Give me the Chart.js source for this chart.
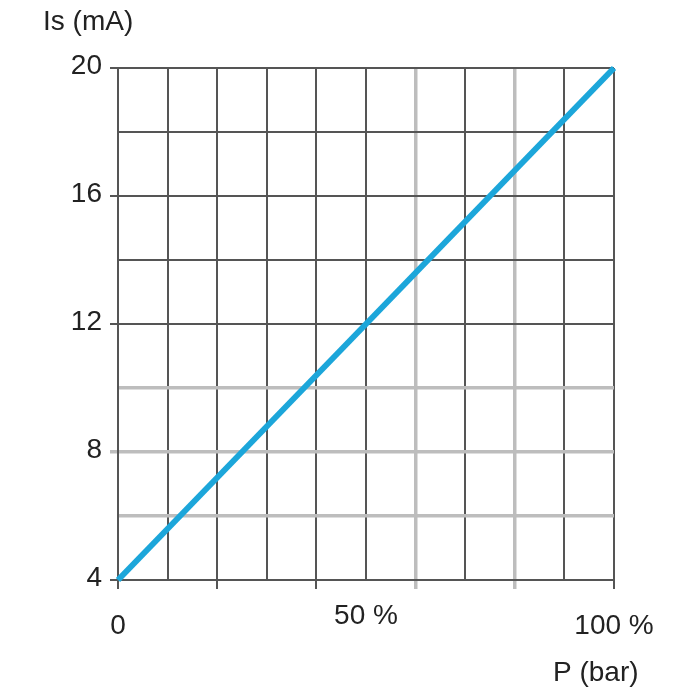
<!DOCTYPE html>
<html>
<head>
<meta charset="utf-8">
<script src="https://cdn.jsdelivr.net/npm/chart.js@4/dist/chart.umd.min.js"></script>
<style>
html,body{margin:0;padding:0;background:#fff;}
#wrap{width:700px;height:700px;}
</style>
</head>
<body>
<div id="wrap"><canvas id="c" width="700" height="700"></canvas></div>
<script>
// Data
const pressurePct = [0, 100];        // P (bar), % of range
const currentMA = [4, 20];           // Is (mA)
const xTickLabels = {0: '0', 50: '50 %', 100: '100 %'};
const yTickLabels = [4, 8, 12, 16, 20];
const xTitle = 'P (bar)';
const yTitle = 'Is (mA)';

const DARK = '#555555';
const LIGHT = '#bdbdbd';
const FONT = '"Liberation Sans", Arial, sans-serif';
const FSIZE = 28;

const points = pressurePct.map((x, i) => ({x: x, y: currentMA[i]}));

const titlePlugin = {
  id: 'axisTitles',
  afterDraw(chart) {
    const ctx = chart.ctx;
    const a = chart.chartArea;
    ctx.save();
    ctx.fillStyle = '#222';
    ctx.font = FSIZE + 'px ' + FONT;
    ctx.textBaseline = 'middle';
    ctx.textAlign = 'left';
    ctx.fillText(yTitle, a.left - 75, a.top - 46);
    ctx.fillText(xTitle, a.right - 61, a.bottom + 93);
    ctx.restore();
  }
};

new Chart(document.getElementById('c'), {
  type: 'line',
  data: {
    datasets: [{
      data: points,
      borderColor: '#1ca6da',
      borderWidth: 6,
      pointRadius: 0,
      fill: false,
      tension: 0,
      clip: false
    }]
  },
  options: {
    responsive: false,
    animation: false,
    devicePixelRatio: 1,
    layout: {padding: {left: 0, right: 86, top: 68, bottom: 0}},
    plugins: {legend: {display: false}, tooltip: {enabled: false}},
    scales: {
      x: {
        type: 'linear',
        min: 0, max: 100,
        afterFit(s) { s.height = 120; },
        border: {display: true, color: DARK, width: 2},
        grid: {
          color: c => (c.tick && (c.tick.value === 60 || c.tick.value === 80)) ? LIGHT : DARK,
          lineWidth: c => (c.tick && (c.tick.value === 60 || c.tick.value === 80)) ? 3.5 : 2,
          tickColor: c => {
            if (!c.tick || c.tick.value % 20 !== 0) return 'rgba(0,0,0,0)';
            return (c.tick.value === 60 || c.tick.value === 80) ? LIGHT : DARK;
          },
          tickLength: 9,
          drawTicks: true
        },
        ticks: {
          stepSize: 10,
          autoSkip: false,
          maxRotation: 0,
          padding: 20,
          color: '#222',
          font: c => ({family: FONT, size: FSIZE, lineHeight: (c.tick && c.tick.value === 50) ? 0.52 : 1.2}),
          callback: v => (xTickLabels[v] !== undefined ? xTickLabels[v] : '')
        }
      },
      y: {
        type: 'linear',
        min: 4, max: 20,
        afterFit(s) { s.width = 118; },
        border: {display: true, color: DARK, width: 2},
        grid: {
          color: c => (c.tick && (c.tick.value === 6 || c.tick.value === 8 || c.tick.value === 10)) ? LIGHT : DARK,
          lineWidth: c => (c.tick && (c.tick.value === 6 || c.tick.value === 8 || c.tick.value === 10)) ? 3.5 : 2,
          tickColor: c => {
            if (!c.tick || yTickLabels.indexOf(c.tick.value) < 0) return 'rgba(0,0,0,0)';
            return c.tick.value === 8 ? LIGHT : DARK;
          },
          tickLength: 8,
          drawTicks: true
        },
        ticks: {
          stepSize: 2,
          autoSkip: false,
          padding: 8,
          labelOffset: -2,
          color: '#222',
          font: {family: FONT, size: FSIZE},
          callback: v => (yTickLabels.indexOf(v) >= 0 ? String(v) : '')
        }
      }
    }
  },
  plugins: [titlePlugin]
});
</script>
</body>
</html>
